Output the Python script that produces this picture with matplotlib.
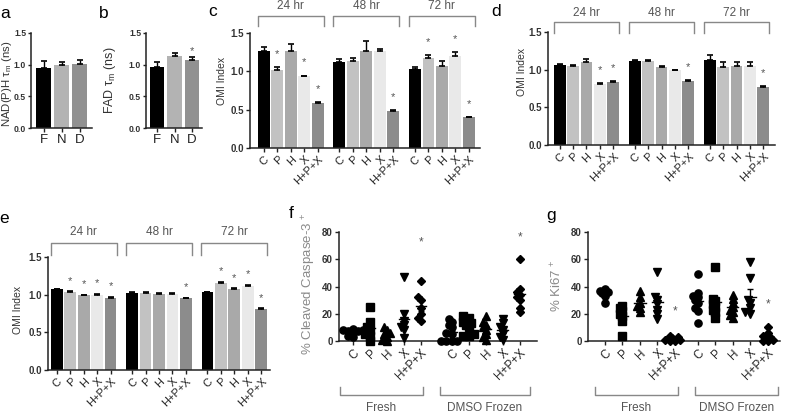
import numpy as np
import matplotlib
matplotlib.use("Agg")
import matplotlib.pyplot as plt
from matplotlib.transforms import blended_transform_factory

plt.rcParams['font.family'] = ['Liberation Sans', 'DejaVu Sans']

W, H = 787, 415

# -----------------------------
# data
# -----------------------------
ab_labels = ["F", "N", "D"]
nadh_tau = [0.94, 0.99, 1.01]
nadh_err = [0.12, 0.05, 0.07]
fad_tau = [0.96, 1.14, 1.07]
fad_err = [0.08, 0.04, 0.05]
fad_star = [False, False, True]

treatments = ["C", "P", "H", "X", "H+P+X"]
timepoints = ["24 hr", "48 hr", "72 hr"]

omi_c = [[1.26, 1.02, 1.26, 0.935, 0.59],
         [1.12, 1.13, 1.27, 1.27, 0.48],
         [1.03, 1.17, 1.07, 1.20, 0.40]]
omi_c_err = [[0.06, 0.04, 0.10, 0.01, 0.01],
             [0.04, 0.05, 0.12, 0.02, 0.01],
             [0.03, 0.04, 0.07, 0.05, 0.005]]
omi_c_star = [[0, 1, 0, 1, 1], [0, 0, 0, 0, 1], [0, 1, 0, 1, 1]]

omi_d = [[1.06, 1.05, 1.10, 0.81, 0.84],
         [1.12, 1.12, 1.04, 0.99, 0.85],
         [1.13, 1.03, 1.05, 1.05, 0.77]]
omi_d_err = [[0.01, 0.01, 0.04, 0.01, 0.01],
             [0.01, 0.01, 0.01, 0.005, 0.01],
             [0.07, 0.07, 0.05, 0.05, 0.01]]
omi_d_star = [[0, 0, 0, 1, 1], [0, 0, 0, 0, 1], [0, 0, 0, 0, 1]]

omi_e = [[1.07, 1.035, 0.99, 1.00, 0.96],
         [1.02, 1.02, 1.01, 1.01, 0.95],
         [1.03, 1.16, 1.075, 1.12, 0.81]]
omi_e_err = [[0.01, 0.01, 0.01, 0.01, 0.01],
             [0.01, 0.01, 0.01, 0.01, 0.01],
             [0.005, 0.01, 0.01, 0.01, 0.01]]
omi_e_star = [[0, 1, 1, 1, 1], [0, 0, 0, 0, 1], [0, 1, 1, 1, 1]]

conditions = ["Fresh", "DMSO Frozen"]

caspase_fresh = [
    [9, 8, 8, 7, 7, 6, 4, 3],
    [25, 14, 10, 8, 5, 4, 0],
    [10, 8, 6, 5, 3, 1, 0],
    [47, 20, 15, 12, 10, 8, 2],
    [44, 32, 30, 24, 20, 17, 15],
]
caspase_dmso = [
    [16, 14, 12, 10, 6, 5, 0, 0, 0, 0],
    [18, 17, 14, 13, 12, 10, 5, 4, 4],
    [18, 14, 12, 10, 8, 5, 3, 1],
    [16, 13, 10, 8, 5, 3, 1],
    [60, 38, 36, 34, 32, 30, 24, 21],
]
caspase_star_y = [72, 76]

ki67_fresh = [
    [38, 37, 36, 35, 33, 28],
    [26, 24, 22, 20, 18, 15, 4],
    [37, 32, 28, 26, 24, 21],
    [51, 32, 30, 27, 23, 20, 16],
    [4, 3, 2, 1, 1, 0, 0],
]
ki67_dmso = [
    [49, 35, 33, 32, 30, 28, 24, 22, 13],
    [54, 31, 29, 27, 25, 23, 21, 17],
    [34, 31, 28, 25, 23, 21, 19, 17],
    [58, 46, 30, 28, 24, 21, 20],
    [10, 6, 4, 3, 2, 1, 0, 0],
]
ki67_star_y = [22, 27]

# -----------------------------
# styling
# -----------------------------
bar_colors = ["#000000", "#c2c2c2", "#a9a9a9", "#e9e9e9", "#8c8c8c"]
ab_colors = ["#000000", "#b3b3b3", "#919191"]
markers = ["o", "s", "^", "v", "D"]
msizes = [5.2, 5.2, 5.2, 5.2, 4.2]
GROUP_STEP = 5.6

fig = plt.figure(figsize=(W / 100, H / 100), dpi=100)


def px_axes(x0, ytop, x1, ybot):
    ax = fig.add_axes([x0 / W, 1 - ybot / H, (x1 - x0) / W, (ybot - ytop) / H])
    ax._px = (x0, ytop, x1, ybot)
    for s in ["top", "right"]:
        ax.spines[s].set_visible(False)
    for s in ["left", "bottom"]:
        ax.spines[s].set_linewidth(1.1)
        ax.spines[s].set_color("#222222")
    ax.tick_params(length=3, width=1, color="#222222", pad=1.5)
    return ax


def ylabel_at(ax, text, xpix, ypix, size=7.5, color="#333333"):
    # xpix = right edge of the rotated label
    x0, ytop, x1, ybot = ax._px
    ax.set_ylabel(text, fontsize=size, color=color)
    ax.yaxis.set_label_coords((xpix - x0) / (x1 - x0), (ybot - ypix) / (ybot - ytop))


def letter(ch, xpix, ypix):
    fig.text(xpix / W, 1 - ypix / H, ch, fontsize=12.5, ha="center", va="center")


def yticks_fmt(ax, ticks, fmt, size=7):
    ax.set_yticks(ticks)
    ax.set_yticklabels([fmt % t for t in ticks], fontsize=size, fontweight="bold", color="#333333")


def simple_bars(ax, vals, errs, stars, colors, width):
    x = np.arange(len(vals))
    ax.bar(x, vals, width=width, color=colors, zorder=2)
    ax.errorbar(x, vals, yerr=[np.zeros(len(vals)), errs], fmt="none",
                ecolor="black", elinewidth=1, capsize=2.5, capthick=1.2, zorder=3)
    for xi, v, e, s in zip(x, vals, errs, stars):
        if s:
            ax.text(xi, v + e + 0.1, "*", ha="center", va="center", fontsize=8, color="#555555")
    ax.set_xticks(x)
    ax.set_xticklabels(ab_labels, fontsize=9.5, color="#222222")
    ax.set_ylim(0, 1.5)
    yticks_fmt(ax, [0, 0.5, 1.0, 1.5], "%.1f", size=6.2)
    ax.tick_params(axis="y", length=2.5, pad=1)


def omi_panel(ax, vals, errs, stars, star_off, br_y, br_end, lab_y):
    xs, labels = [], []
    trans = blended_transform_factory(ax.transData, fig.transFigure)
    for g, (v, e, s) in enumerate(zip(vals, errs, stars)):
        x = g * GROUP_STEP + np.arange(len(v))
        ax.bar(x, v, width=0.88, color=bar_colors, zorder=2)
        ax.errorbar(x, v, yerr=[np.zeros(len(v)), e], fmt="none", ecolor="black",
                    elinewidth=1, capsize=2.2, capthick=1.2, zorder=3)
        for xi, vi, ei, si in zip(x, v, e, s):
            if si:
                ax.text(xi, vi + ei + star_off, "*", ha="center", va="center",
                        fontsize=8, color="#555555")
        # bracket above the group
        xl, xr = x[0] - 0.45, x[-1] + 0.45
        yb, ye = 1 - br_y / H, 1 - br_end / H
        ax.plot([xl, xl, xr, xr], [ye, yb, yb, ye], transform=trans, color="#888888",
                lw=1, clip_on=False, solid_joinstyle="round")
        ax.text((xl + xr) / 2, 1 - lab_y / H, timepoints[g], transform=trans, ha="center",
                va="center", fontsize=8.5, color="#555555")
        xs.extend(x)
        labels.extend(treatments)
    ax.set_xticks(xs)
    ax.set_xticklabels(labels, rotation=45, ha="right", rotation_mode="anchor",
                       fontsize=8, color="#222222")
    ax.set_ylim(0, 1.5)
    yticks_fmt(ax, [0, 0.5, 1.0, 1.5], "%.1f")


def swarm(vals, px_x, px_y, d=3.6, step=2.6):
    # simple deterministic beeswarm layout (pixel space)
    vals = np.asarray(vals, float)
    offs = np.zeros(len(vals))
    placed = []
    cands = [0, -1, 1, -2, 2, -3, 3, -4, 4]
    for i in np.argsort(vals):
        for c in cands:
            ox = c * step
            ok = all((ox - px) ** 2 + ((vals[i] - pv) * px_y) ** 2 >= d * d
                     for px, pv in placed)
            if ok:
                break
        offs[i] = ox / px_x
        placed.append((ox, vals[i]))
    return offs


def scatter_panel(ax, fresh, dmso, group_off, star_y, brackets, lab_y):
    x0, ytop, x1, ybot = ax._px
    xmin, xmax = ax.get_xlim()
    px_x = (x1 - x0) / (xmax - xmin)
    px_y = (ybot - ytop) / 80.0
    xs, labels = [], []
    for g, groups in enumerate([fresh, dmso]):
        for i, vals in enumerate(groups):
            xc = g * group_off + i
            off = swarm(vals, px_x, px_y)
            ax.plot(xc + off, vals, ls="none", marker=markers[i], ms=msizes[i],
                    color="black", mec="black", clip_on=False, zorder=3)
            m = np.mean(vals)
            sem = np.std(vals, ddof=1) / np.sqrt(len(vals))
            ax.plot([xc - 0.32, xc + 0.32], [m, m], color="black", lw=1, zorder=4)
            ax.errorbar(xc, m, yerr=sem, fmt="none", ecolor="black", elinewidth=1,
                        capsize=2.2, capthick=1, zorder=4)
            xs.append(xc)
            labels.append(treatments[i])
        ax.text(g * group_off + 4, star_y[g], "*", ha="center", va="center",
                fontsize=8.5, color="#555555")
    ax.set_xticks(xs)
    ax.set_xticklabels(labels, rotation=45, ha="right", rotation_mode="anchor",
                       fontsize=8.5, color="#222222")
    ax.set_ylim(0, 80)
    yticks_fmt(ax, [0, 20, 40, 60, 80], "%d")
    for (bl, br), name in zip(brackets, conditions):
        yb, ye = 1 - 395 / H, 1 - 387 / H
        fig.add_artist(plt.Line2D([bl / W, bl / W, br / W, br / W], [ye, yb, yb, ye],
                                  color="#888888", lw=1))
        fig.text((bl + br) / 2 / W, 1 - lab_y / H, name, ha="center", va="center",
                 fontsize=8.5, color="#555555")


# panel a
ax_a = px_axes(31, 33, 92, 128)
ax_a.set_xlim(-0.72, 2.67)
simple_bars(ax_a, nadh_tau, nadh_err, [False] * 3, ab_colors, 0.83)
ylabel_at(ax_a, r"NAD(P)H τ$_\mathregular{m}$ (ns)", 14.5, 84, size=8.2)
letter("a", 5, 14)

# panel b
ax_b = px_axes(146, 33, 202, 128)
ax_b.set_xlim(-0.63, 2.57)
simple_bars(ax_b, fad_tau, fad_err, fad_star, ab_colors, 0.85)
ylabel_at(ax_b, r"FAD τ$_\mathregular{m}$ (ns)", 118, 80, size=9)
letter("b", 104, 14)

# panel c
ax_c = px_axes(250, 33, 480, 148)
ax_c.set_xlim(-1.02, 16.02)
omi_panel(ax_c, omi_c, omi_c_err, omi_c_star, 0.17, 16, 26, 6)
ylabel_at(ax_c, "OMI Index", 227, 81)
letter("c", 213, 12)

# panel d
ax_d = px_axes(548, 32, 775, 145)
ax_d.set_xlim(-0.87, 16.07)
omi_panel(ax_d, omi_d, omi_d_err, omi_d_star, 0.17, 22, 33, 13)
ylabel_at(ax_d, "OMI Index", 527, 72)
letter("d", 496, 11)

# panel e
ax_e = px_axes(48, 257, 270, 370)
ax_e.set_xlim(-0.65, 15.85)
omi_panel(ax_e, omi_e, omi_e_err, omi_e_star, 0.14, 243, 255, 232)
ylabel_at(ax_e, "OMI Index", 23, 310)
letter("e", 4, 218)

# panel f
ax_f = px_axes(339, 232, 537, 341)
ax_f.set_xlim(-0.82, 10.82)
scatter_panel(ax_f, caspase_fresh, caspase_dmso, 5.8, caspase_star_y,
              [(340, 423), (440, 530)], 408)
ylabel_at(ax_f, r"% Cleaved Caspase-3 $^\mathregular{+}$", 318, 284, size=9.5, color="#8a8a8a")
letter("f", 291, 213)

# panel g
ax_g = px_axes(588, 232, 780, 341)
ax_g.set_xlim(-0.97, 10.0)
scatter_panel(ax_g, ki67_fresh, ki67_dmso, 5.3, ki67_star_y,
              [(595, 678), (695, 778)], 408)
ylabel_at(ax_g, r"% Ki67 $^\mathregular{+}$", 564, 286, size=9.5, color="#8a8a8a")
letter("g", 551, 215)

fig.savefig("out.png", dpi=100, facecolor="white")
